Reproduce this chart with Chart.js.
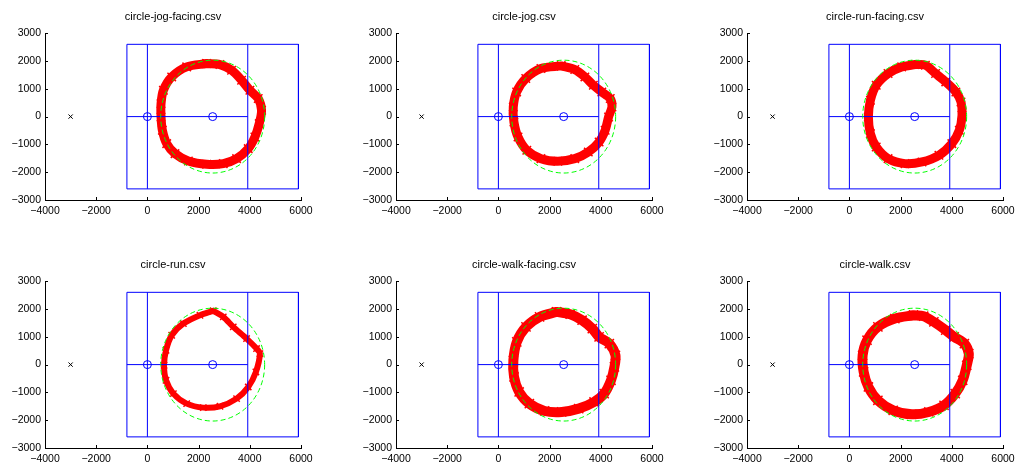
<!DOCTYPE html>
<html>
<head>
<meta charset="utf-8">
<script src="https://cdn.jsdelivr.net/npm/chart.js@4.4.0/dist/chart.umd.min.js"></script>
<style>
  html, body { margin: 0; padding: 0; background: #fff; }
  body { width: 1017px; height: 464px; position: relative; overflow: hidden; }
  canvas { position: absolute; }
</style>
</head>
<body>
<script>
// ---- data ----
const titles = ['circle-jog-facing.csv', 'circle-jog.csv', 'circle-run-facing.csv',
                'circle-run.csv', 'circle-walk-facing.csv', 'circle-walk.csv'];
const xTicks = [-4000, -2000, 0, 2000, 4000, 6000];
const yTicks = [-3000, -2000, -1000, 0, 1000, 2000, 3000];

const roomX = [-800, 5900, 5900, -800, -800];
const roomY = [2600, 2600, -2600, -2600, 2600];
const dividerX = [0, 3920];
const dividerY = [-2600, 2600];
const midlineX = [-800, 3920];
const midlineY = [0, 0];
const anchorX = [0, 2550];
const anchorY = [0, 0];
const sourceX = [-3000];
const sourceY = [0];
const ringCenter = [2550, 0];
const ringRadius = 2030;

const jogFacingX = [2314, 1534, 949, 624, 533, 533, 585, 754, 1079, 1599, 2314, 2964, 3484, 3939, 4199, 4368, 4459, 4329, 4004, 3679, 3289, 2834, 2314];
const jogFacingY = [1908, 1788, 1428, 948, 468, -12, -492, -972, -1332, -1596, -1716, -1692, -1512, -1152, -732, -252, 228, 648, 948, 1308, 1668, 1872, 1908];
const jogX = [2455, 1663, 1069, 713, 581, 607, 766, 1109, 1663, 2323, 2983, 3511, 3934, 4171, 4303, 4435, 4369, 4039, 3709, 3379, 2983, 2455];
const jogY = [1824, 1728, 1368, 888, 348, -192, -732, -1212, -1512, -1608, -1512, -1272, -912, -492, -12, 348, 648, 888, 1128, 1428, 1692, 1824];
const runFacingX = [2570, 2041, 1510, 1047, 821, 742, 821, 1047, 1510, 2173, 2836, 3498, 4002, 4293, 4399, 4359, 4160, 3763, 3366, 2968, 2570];
const runFacingY = [1872, 1788, 1548, 1128, 588, -12, -612, -1092, -1512, -1692, -1632, -1392, -972, -492, 48, 528, 888, 1248, 1548, 1848, 1872];
const runX = [2574, 2054, 1404, 949, 728, 650, 728, 1014, 1534, 2184, 2834, 3484, 3939, 4238, 4394, 4264, 3874, 3354, 2964, 2574];
const runY = [1932, 1776, 1476, 1056, 516, -24, -564, -1044, -1404, -1548, -1500, -1224, -804, -264, 396, 576, 936, 1356, 1716, 1932];
const walkFacingX = [2272, 1608, 1077, 718, 585, 611, 811, 1209, 1807, 2472, 3137, 3735, 4133, 4399, 4532, 4572, 4333, 3934, 3668, 3270, 2804, 2272];
const walkFacingY = [1896, 1716, 1356, 816, 156, -444, -984, -1404, -1668, -1704, -1584, -1344, -1044, -564, -84, 336, 756, 996, 1296, 1596, 1812, 1896];
const walkX = [2504, 1776, 1113, 689, 517, 557, 742, 1113, 1709, 2438, 3101, 3697, 4134, 4425, 4584, 4664, 4492, 4094, 3763, 3300, 2902, 2504];
const walkY = [1776, 1656, 1356, 876, 336, -264, -804, -1284, -1644, -1788, -1704, -1464, -1044, -564, -24, 396, 756, 996, 1236, 1536, 1740, 1776];

const tracksX = [jogFacingX, jogX, runFacingX, runX, walkFacingX, walkX];
const tracksY = [jogFacingY, jogY, runFacingY, runY, walkFacingY, walkY];

// ---- layout / style ----
const panelLeft = [45, 396, 747];
const panelTop = [33, 281];
const plotW = 256, plotH = 167;
const bandWidth = [9, 9, 9, 6, 10, 10];
const FONT = 'Liberation Sans, Arial, Helvetica, sans-serif';

const pts = (xs, ys) => xs.map((x, i) => ({ x: x, y: ys[i] }));
const minus = v => String(v).replace('-', '\u2212');

const inwardTicks = {
  id: 'inwardTicks',
  afterDraw(chart) {
    const { ctx, chartArea: a } = chart;
    const { x, y } = chart.scales;
    ctx.save();
    ctx.strokeStyle = '#000';
    ctx.lineWidth = 1;
    ctx.beginPath();
    xTicks.forEach(v => {
      const p = Math.round(x.getPixelForValue(v)) + 0.5;
      ctx.moveTo(p, a.bottom); ctx.lineTo(p, a.bottom - 3);
    });
    yTicks.forEach(v => {
      const p = Math.round(y.getPixelForValue(v)) + 0.5;
      ctx.moveTo(a.left, p); ctx.lineTo(a.left + 3, p);
    });
    ctx.stroke();
    ctx.restore();
  }
};

const ring = {
  id: 'ring',
  afterDatasetsDraw(chart) {
    const { ctx } = chart;
    const { x, y } = chart.scales;
    const cx = x.getPixelForValue(ringCenter[0]);
    const cy = y.getPixelForValue(ringCenter[1]);
    const rx = Math.abs(x.getPixelForValue(ringCenter[0] + ringRadius) - cx);
    const ry = Math.abs(y.getPixelForValue(ringCenter[1] + ringRadius) - cy);
    ctx.save();
    ctx.strokeStyle = '#00ff00';
    ctx.lineWidth = 1;
    ctx.setLineDash([5, 3]);
    ctx.beginPath();
    ctx.ellipse(cx, cy, rx, ry, 0, 0, Math.PI * 2);
    ctx.stroke();
    ctx.restore();
  }
};

function blueLine(xs, ys) {
  return {
    data: pts(xs, ys), showLine: true, borderColor: '#0000ff', borderWidth: 1,
    pointRadius: 0, fill: false, tension: 0
  };
}

titles.forEach((title, i) => {
  const col = i % 3, row = Math.floor(i / 3);
  const cv = document.createElement('canvas');
  cv.width = 45 + plotW + 25;
  cv.height = 33 + plotH + 25;
  cv.style.left = (panelLeft[col] - 45) + 'px';
  cv.style.top = (panelTop[row] - 33) + 'px';
  document.body.appendChild(cv);

  new Chart(cv, {
    type: 'scatter',
    data: {
      datasets: [
        {
          data: pts(sourceX, sourceY), pointStyle: 'crossRot', pointRadius: 3,
          borderColor: '#000', borderWidth: 1
        },
        {
          data: pts(anchorX, anchorY), pointStyle: 'circle', pointRadius: 4,
          borderColor: '#0000ff', backgroundColor: 'rgba(0,0,0,0)', borderWidth: 1
        },
        blueLine(midlineX, midlineY),
        blueLine([dividerX[0], dividerX[0]], dividerY),
        blueLine([dividerX[1], dividerX[1]], dividerY),
        blueLine(roomX, roomY),
        {
          data: pts(tracksX[i], tracksY[i]), showLine: true, borderColor: '#ff0000',
          borderWidth: bandWidth[i], tension: 0.3, fill: false,
          borderJoinStyle: 'round', borderCapStyle: 'round',
          pointStyle: 'crossRot', pointRadius: bandWidth[i] / 2 + 1.5,
          pointBorderColor: '#ff0000', pointBackgroundColor: '#ff0000', pointBorderWidth: 1.5
        }
      ]
    },
    options: {
      responsive: false,
      animation: false,
      layout: { padding: { top: 0, right: 25, bottom: 0, left: 0 } },
      plugins: {
        legend: { display: false },
        tooltip: { enabled: false },
        title: {
          display: true, text: title, color: '#000', fullSize: false,
          font: { family: FONT, size: 11, weight: 'normal', lineHeight: 1.2 },
          padding: { top: 10, bottom: 10 }
        }
      },
      scales: {
        x: {
          type: 'linear', min: -4000, max: 6000,
          afterBuildTicks: s => { s.ticks = xTicks.map(v => ({ value: v })); },
          afterFit: s => { s.height = 25; },
          grid: { display: false, drawTicks: false },
          border: { display: true, color: '#000', width: 1 },
          ticks: {
            color: '#000', padding: 5, maxRotation: 0, autoSkip: false,
            font: { family: FONT, size: 10.5 }, callback: minus
          }
        },
        y: {
          type: 'linear', min: -3000, max: 3000,
          afterBuildTicks: s => { s.ticks = yTicks.map(v => ({ value: v })); },
          afterFit: s => { s.width = 45; },
          grid: { display: false, drawTicks: false },
          border: { display: true, color: '#000', width: 1 },
          ticks: {
            color: '#000', padding: 4, autoSkip: false,
            font: { family: FONT, size: 10.5 }, callback: minus
          }
        }
      }
    },
    plugins: [ring, inwardTicks]
  });
});
</script>
</body>
</html>
